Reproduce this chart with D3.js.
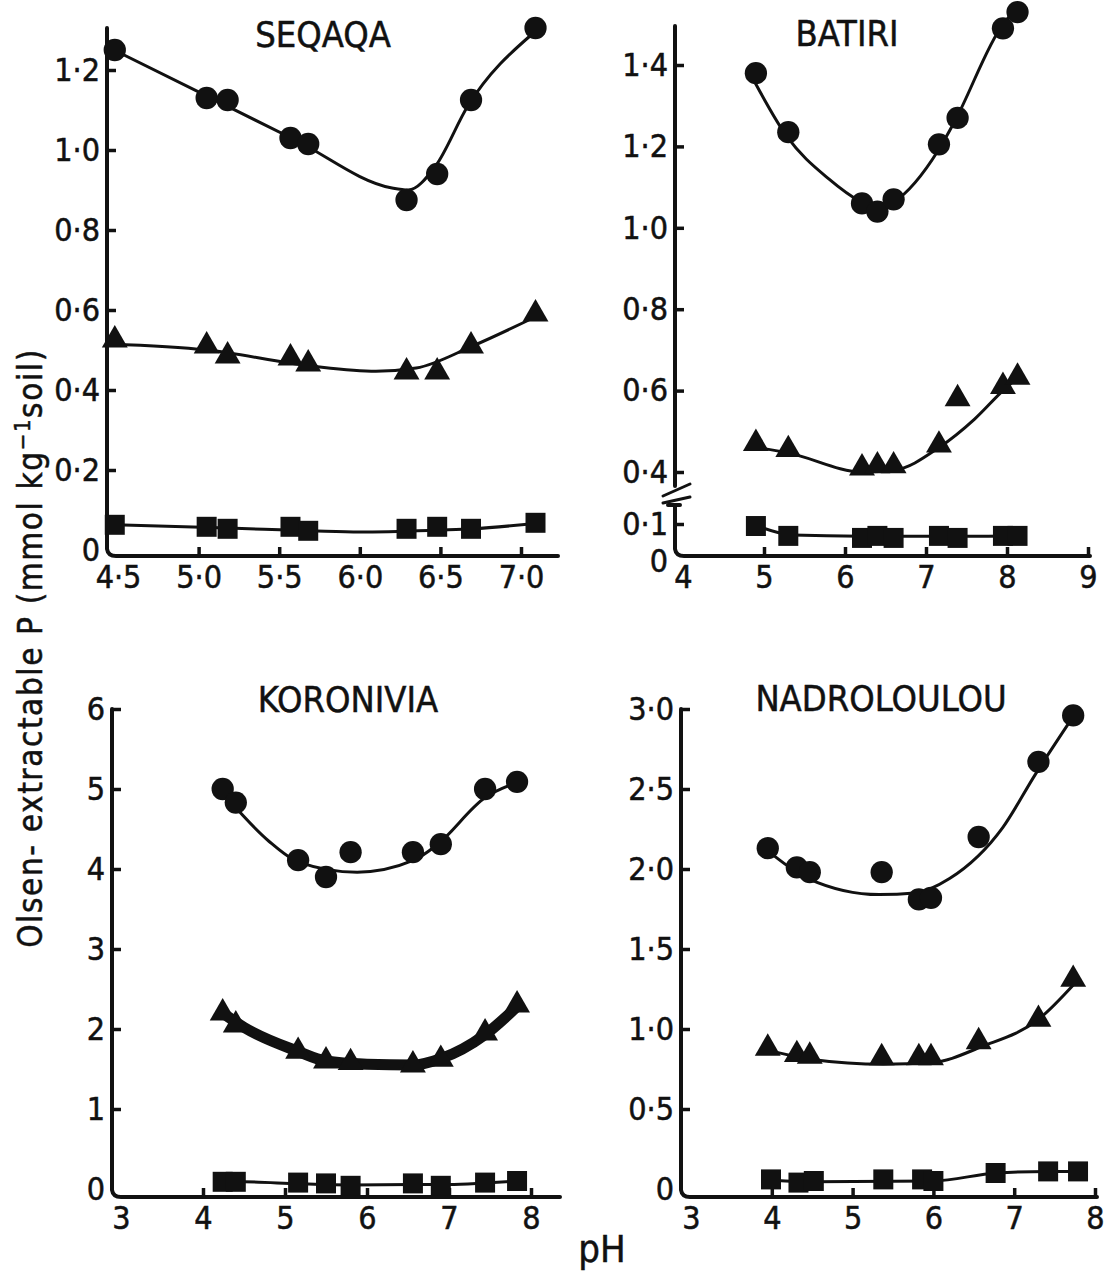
<!DOCTYPE html>
<html>
<head>
<meta charset="utf-8">
<script src="https://cdn.jsdelivr.net/npm/d3@7"></script>
<style>
body { margin: 0; background: #fff; }
svg { display: block; background: #fff; }
text { font-family: "Liberation Sans Narrow", "DejaVu Sans Condensed", "Arial Narrow", sans-serif; fill: #111; stroke: #111; stroke-width: 0.5px; }
.axis-line { fill: none; stroke: #111; stroke-linecap: round; stroke-linejoin: round; }
.tick line { stroke: #111; stroke-width: 3.5px; }
.fit { fill: none; stroke: #111; stroke-linejoin: round; }
.marker { fill: #111; }
</style>
</head>
<body>
<svg width="1116" height="1280"></svg>
<script>
// ---- SEQAQA ----
const seqaqaPH = [4.48, 5.05, 5.18, 5.57, 5.68, 6.29, 6.48, 6.69, 7.09];
const seqaqaCircle = [1.25, 1.13, 1.125, 1.03, 1.015, 0.875, 0.94, 1.125, 1.305];
const seqaqaTriangle = [0.525, 0.51, 0.485, 0.48, 0.465, 0.445, 0.445, 0.51, 0.59];
const seqaqaSquare = [0.063, 0.058, 0.053, 0.058, 0.048, 0.053, 0.058, 0.053, 0.068];
const seqaqaCircleFit = [[4.45, 1.255], [5.6, 1.025], [6.2, 0.905], [6.3, 0.9], [6.47, 0.96], [6.67, 1.11], [7.07, 1.29]];
const seqaqaTriangleFit = [[4.45, 0.515], [5.05, 0.5], [5.7, 0.46], [6.1, 0.447], [6.35, 0.455], [6.7, 0.51], [7.1, 0.585]];
const seqaqaSquareFit = [[4.48, 0.063], [5.18, 0.055], [5.7, 0.048], [6.0, 0.045], [6.5, 0.05], [6.7, 0.053], [7.1, 0.067]];
const seqaqaXTicks = [4.5, 5.0, 5.5, 6.0, 6.5, 7.0];
const seqaqaXLabels = ['4·5', '5·0', '5·5', '6·0', '6·5', '7·0'];
const seqaqaYTicks = [0, 0.2, 0.4, 0.6, 0.8, 1.0, 1.2];
const seqaqaYLabels = ['0', '0·2', '0·4', '0·6', '0·8', '1·0', '1·2'];

// ---- BATIRI ----
const batiriPH = [4.9, 5.3, 6.21, 6.4, 6.6, 7.16, 7.39, 7.95, 8.13];
const batiriCircle = [1.38, 1.235, 1.06, 1.04, 1.07, 1.205, 1.27, 1.49, 1.53];
const batiriTriangle = [0.47, 0.455, 0.41, 0.415, 0.415, 0.466, 0.58, 0.61, 0.633];
const batiriSquare = [0.093, 0.059, 0.052, 0.059, 0.052, 0.059, 0.052, 0.059, 0.059];
const batiriCircleFit = [[4.88, 1.36], [5.28, 1.225], [5.8, 1.12], [6.2, 1.063], [6.4, 1.045], [6.6, 1.063], [7.15, 1.19], [7.35, 1.26], [7.95, 1.5], [8.08, 1.53]];
const batiriTriangleFit = [[4.93, 0.46], [5.3, 0.447], [6.22, 0.4], [6.62, 0.405], [7.16, 0.46], [7.6, 0.53], [7.95, 0.6], [8.12, 0.63]];
const batiriSquareFit = [[4.92, 0.093], [5.35, 0.062], [6.2, 0.058], [7.0, 0.058], [7.5, 0.058], [8.17, 0.06]];
const batiriXTicks = [4, 5, 6, 7, 8, 9];
const batiriXLabels = ['4', '5', '6', '7', '8', '9'];
const batiriYTicks = [0.4, 0.6, 0.8, 1.0, 1.2, 1.4];
const batiriYLabels = ['0·4', '0·6', '0·8', '1·0', '1·2', '1·4'];
const batiriLowTicks = [0, 0.1];
const batiriLowLabels = ['0', '0·1'];

// ---- KORONIVIA ----
const koronPH = [4.24, 4.4, 5.16, 5.5, 5.8, 6.56, 6.9, 7.44, 7.83];
const koronCircle = [5.0, 4.83, 4.11, 3.9, 4.21, 4.21, 4.31, 5.0, 5.09];
const koronTriangle = [2.2, 2.05, 1.72, 1.6, 1.58, 1.55, 1.62, 1.95, 2.3];
const koronSquare = [0.09, 0.09, 0.08, 0.07, 0.04, 0.07, 0.04, 0.08, 0.1];
const koronCircleFit = [[4.3, 4.88], [4.8, 4.35], [5.16, 4.09], [5.88, 3.96], [6.57, 4.11], [6.84, 4.29], [7.45, 4.9], [7.8, 5.07]];
const koronTriangleFit = [[4.24, 2.2], [4.5, 2.02], [5.16, 1.72], [5.5, 1.6], [6.0, 1.56], [6.56, 1.55], [6.9, 1.63], [7.44, 1.93], [7.83, 2.28]];
const koronSquareFit = [[4.3, 0.09], [4.5, 0.09], [5.16, 0.065], [5.8, 0.05], [6.56, 0.055], [7.0, 0.055], [7.44, 0.075], [7.83, 0.1]];
const koronXTicks = [3, 4, 5, 6, 7, 8];
const koronXLabels = ['3', '4', '5', '6', '7', '8'];
const koronYTicks = [0, 1, 2, 3, 4, 5, 6];
const koronYLabels = ['0', '1', '2', '3', '4', '5', '6'];

// ---- NADROLOULOU ----
const nadroPH = [3.95, 4.31, 4.47, 5.36, 5.82, 5.97, 6.56, 7.3, 7.73];
const nadroSquarePH = [3.99, 4.33, 4.52, 5.38, 5.86, 6.0, 6.77, 7.42, 7.79];
const nadroCircle = [2.13, 2.01, 1.98, 1.98, 1.81, 1.82, 2.2, 2.67, 2.96];
const nadroTriangle = [0.88, 0.84, 0.83, 0.82, 0.82, 0.82, 0.92, 1.06, 1.31];
const nadroSquare = [0.06, 0.04, 0.05, 0.06, 0.06, 0.05, 0.1, 0.11, 0.11];
const nadroCircleFit = [[4.01, 2.09], [4.45, 1.94], [5.33, 1.84], [5.77, 1.85], [6.2, 1.94], [6.86, 2.26], [7.26, 2.59], [7.7, 2.93]];
const nadroTriangleFit = [[4.01, 0.86], [4.5, 0.81], [5.38, 0.78], [5.98, 0.79], [6.6, 0.89], [7.3, 1.06], [7.74, 1.28]];
const nadroSquareFit = [[4.01, 0.055], [4.52, 0.045], [6.0, 0.05], [6.78, 0.1], [7.42, 0.11], [7.79, 0.11]];
const nadroXTicks = [3, 4, 5, 6, 7, 8];
const nadroXLabels = ['3', '4', '5', '6', '7', '8'];
const nadroYTicks = [0, 0.5, 1.0, 1.5, 2.0, 2.5, 3.0];
const nadroYLabels = ['0', '0·5', '1·0', '1·5', '2·0', '2·5', '3·0'];

const svg = d3.select('svg');

const panels = [
    {
        title: 'SEQAQA', titleX: 323, titleY: 47,
        x: d3.scaleLinear().domain([4.5, 7.0]).range([118, 521]),
        y: d3.scaleLinear().domain([0, 1.2]).range([550, 70]),
        axisX: 107, axisTop: 28, axisY: 556, axisEnd: 558,
        xTicks: seqaqaXTicks, xLabels: seqaqaXLabels, yTicks: seqaqaYTicks, yLabels: seqaqaYLabels,
        series: [
            { type: d3.symbolCircle, ph: seqaqaPH, values: seqaqaCircle, fit: seqaqaCircleFit },
            { type: d3.symbolTriangle, ph: seqaqaPH, values: seqaqaTriangle, fit: seqaqaTriangleFit },
            { type: d3.symbolSquare, ph: seqaqaPH, values: seqaqaSquare, fit: seqaqaSquareFit }
        ]
    },
    {
        title: 'BATIRI', titleX: 847, titleY: 46,
        x: d3.scaleLinear().domain([4, 9]).range([683, 1088]),
        y: d3.scaleLinear().domain([0.4, 1.4]).range([472, 65]),
        yLow: d3.scaleLinear().domain([0, 0.1]).range([553, 524]),
        axisX: 675, axisTop: 26, axisY: 556, axisEnd: 1090, brk: [486, 505],
        xTicks: batiriXTicks, xLabels: batiriXLabels, yTicks: batiriYTicks, yLabels: batiriYLabels,
        lowTicks: batiriLowTicks, lowLabels: batiriLowLabels,
        series: [
            { type: d3.symbolCircle, ph: batiriPH, values: batiriCircle, fit: batiriCircleFit },
            { type: d3.symbolTriangle, ph: batiriPH, values: batiriTriangle, fit: batiriTriangleFit },
            { type: d3.symbolSquare, ph: batiriPH, values: batiriSquare, fit: batiriSquareFit, low: true }
        ]
    },
    {
        title: 'KORONIVIA', titleX: 348, titleY: 712,
        x: d3.scaleLinear().domain([3, 8]).range([121, 531]),
        y: d3.scaleLinear().domain([0, 6]).range([1189, 709]),
        axisX: 112, axisTop: 709, axisY: 1197, axisEnd: 560,
        xTicks: koronXTicks, xLabels: koronXLabels, yTicks: koronYTicks, yLabels: koronYLabels,
        series: [
            { type: d3.symbolCircle, ph: koronPH, values: koronCircle, fit: koronCircleFit },
            { type: d3.symbolTriangle, ph: koronPH, values: koronTriangle, fit: koronTriangleFit, heavy: true },
            { type: d3.symbolSquare, ph: koronPH, values: koronSquare, fit: koronSquareFit }
        ]
    },
    {
        title: 'NADROLOULOU', titleX: 881, titleY: 711,
        x: d3.scaleLinear().domain([3, 8]).range([691, 1095]),
        y: d3.scaleLinear().domain([0, 3]).range([1189, 709]),
        axisX: 681, axisTop: 709, axisY: 1197, axisEnd: 1097,
        xTicks: nadroXTicks, xLabels: nadroXLabels, yTicks: nadroYTicks, yLabels: nadroYLabels,
        series: [
            { type: d3.symbolCircle, ph: nadroPH, values: nadroCircle, fit: nadroCircleFit },
            { type: d3.symbolTriangle, ph: nadroPH, values: nadroTriangle, fit: nadroTriangleFit },
            { type: d3.symbolSquare, ph: nadroSquarePH, values: nadroSquare, fit: nadroSquareFit }
        ]
    }
];

const symbolSize = new Map([[d3.symbolCircle, 390], [d3.symbolTriangle, 290], [d3.symbolSquare, 400]]);

const yAxis = (g, scale, ticks, labels) => {
    g.call(d3.axisLeft(scale)
        .tickValues(ticks)
        .tickSizeInner(-9)
        .tickSizeOuter(0)
        .tickPadding(7)
        .tickFormat((d, i) => labels[i]));
    g.select('.domain').remove();
    g.selectAll('.tick').filter(d => d === 0).select('line').remove();
    g.selectAll('text').attr('font-size', 32);
};

const xAxis = (g, scale, ticks, labels) => {
    g.call(d3.axisBottom(scale)
        .tickValues(ticks)
        .tickSizeInner(-9)
        .tickSizeOuter(0)
        .tickPadding(9)
        .tickFormat((d, i) => labels[i]));
    g.select('.domain').remove();
    g.selectAll('text').attr('font-size', 32);
};

panels.forEach(p => {
    const g = svg.append('g');
    const X = p.axisX, Y = p.axisY;

    // axis lines with the hand-drawn hook at the corner
    if (p.brk) {
        g.append('path').attr('class', 'axis-line').style('stroke-width', 4)
            .attr('d', `M${X},${p.axisTop} V${p.brk[0]}`);
        g.append('path').attr('class', 'axis-line').style('stroke-width', 4)
            .attr('d', `M${X - 7},${p.brk[1]} H${X + 5} M${X},${p.brk[1]} V${Y - 7} Q${X + 1},${Y} ${X + 9},${Y} H${p.axisEnd}`);
        g.append('path').attr('class', 'axis-line').style('stroke-width', 3)
            .attr('d', `M${X - 12},${p.brk[0] + 10} L${X + 15},${p.brk[0] - 2} M${X - 12},${p.brk[0] + 17} L${X + 15},${p.brk[0] + 11}`);
    } else {
        g.append('path').attr('class', 'axis-line').style('stroke-width', 4)
            .attr('d', `M${X},${p.axisTop} V${Y - 7} Q${X + 1},${Y} ${X + 9},${Y} H${p.axisEnd}`);
    }

    g.append('g').attr('transform', `translate(${X},0)`)
        .call(yAxis, p.y, p.yTicks, p.yLabels);
    if (p.yLow) {
        const lg = g.append('g').attr('transform', `translate(${X},0)`)
            .call(yAxis, p.yLow, p.lowTicks, p.lowLabels);
        lg.selectAll('.tick').filter(d => d === 0).select('text').attr('y', 8);
    }
    const xg = g.append('g').attr('transform', `translate(0,${Y})`)
        .call(xAxis, p.x, p.xTicks, p.xLabels);
    xg.selectAll('.tick').filter(d => p.x(d) - X < 20).select('line').remove();

    g.append('text')
        .attr('x', p.titleX)
        .attr('y', p.titleY)
        .attr('text-anchor', 'middle')
        .attr('font-size', 36)
        .text(p.title);

    p.series.forEach(s => {
        const ys = s.low ? p.yLow : p.y;
        const line = d3.line()
            .x(d => p.x(d[0]))
            .y(d => ys(d[1]))
            .curve(d3.curveMonotoneX);
        g.append('path')
            .attr('class', 'fit')
            .style('stroke-width', s.heavy ? 11 : 3)
            .attr('d', line(s.fit));

        g.append('g').selectAll('path')
            .data(s.values)
            .join('path')
            .attr('class', 'marker')
            .attr('transform', (d, i) => `translate(${p.x(s.ph[i])},${ys(d)})`)
            .attr('d', d3.symbol().type(s.type).size(symbolSize.get(s.type)));
    });
});

// shared axis titles
const yTitle = svg.append('text')
    .attr('transform', 'translate(42,648) rotate(-90)')
    .attr('text-anchor', 'middle')
    .attr('font-size', 33)
    .attr('letter-spacing', 1.6);
yTitle.append('tspan').text('Olsen- extractable P  (mmol kg');
yTitle.append('tspan').attr('font-size', 22).attr('dy', -12).text('−1');
yTitle.append('tspan').attr('dy', 12).text('soil)');

svg.append('text')
    .attr('x', 602)
    .attr('y', 1262)
    .attr('text-anchor', 'middle')
    .attr('font-size', 38)
    .text('pH');
</script>
</body>
</html>
